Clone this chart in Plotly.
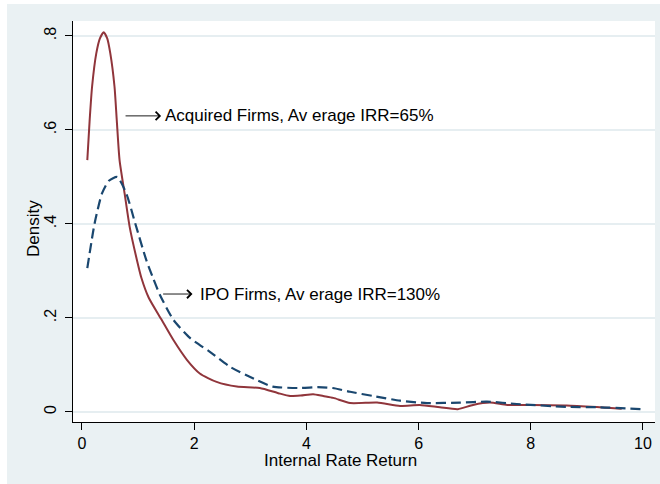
import plotly.graph_objects as go

# ---- data ----
acq_x = [0.095, 0.137, 0.18, 0.255, 0.32, 0.387, 0.45, 0.505, 0.58, 0.62, 0.67, 0.76, 0.85,
         0.98, 1.06, 1.19, 1.42, 1.63, 1.87, 2.10, 2.40, 2.76, 3.17, 3.5, 3.71,
         3.9, 4.12, 4.3, 4.48, 4.78, 5.26, 5.67, 6.02, 6.38, 6.7, 6.97, 7.27, 7.58, 8.04,
         8.64, 9.23, 9.62]
acq_y = [0.536, 0.621, 0.692, 0.763, 0.795, 0.808, 0.795, 0.763, 0.692, 0.621, 0.536, 0.465, 0.394,
         0.323, 0.285, 0.243, 0.196, 0.153, 0.111, 0.082, 0.064, 0.054, 0.051, 0.040, 0.034,
         0.035, 0.038, 0.034, 0.030, 0.019, 0.020, 0.013, 0.015, 0.010, 0.006, 0.015, 0.020, 0.015, 0.015,
         0.014, 0.010, 0.007]

ipo_x = [0.095, 0.225, 0.357, 0.48, 0.63, 0.79, 0.95, 1.147, 1.27, 1.39, 1.63, 1.93, 2.28, 2.64,
         3.11, 3.4, 3.89, 4.2, 4.47, 4.78, 5.19, 5.67, 6.15, 6.74, 7.22, 7.75, 8.64, 9.23, 10.0]
ipo_y = [0.306, 0.401, 0.465, 0.492, 0.500, 0.465, 0.401, 0.323, 0.284, 0.249, 0.196, 0.157, 0.128, 0.096,
         0.068, 0.054, 0.051, 0.053, 0.051, 0.043, 0.034, 0.024, 0.019, 0.020, 0.022, 0.017, 0.011, 0.010, 0.006]

x_ticks = [0, 2, 4, 6, 8, 10]
y_ticks = [0, 0.2, 0.4, 0.6, 0.8]
y_ticktext = ["0", ".2", ".4", ".6", ".8"]

acq_label = "Acquired Firms, Av erage IRR=65%"
ipo_label = "IPO Firms, Av erage IRR=130%"
x_title = "Internal Rate Return"
y_title = "Density"

MAROON = "#90353B"
NAVY = "#1A476F"
BG = "#EAF1F3"
GRID = "#E6EEF1"
FONT = "Liberation Sans, Arial, sans-serif"

fig = go.Figure()
fig.add_trace(go.Scatter(x=acq_x, y=acq_y, mode="lines",
                         line=dict(color=MAROON, width=2, shape="spline", smoothing=0.6),
                         showlegend=False, hoverinfo="skip"))
fig.add_trace(go.Scatter(x=ipo_x, y=ipo_y, mode="lines",
                         line=dict(color=NAVY, width=2.2, dash="10px,5px", shape="spline", smoothing=0.6),
                         showlegend=False, hoverinfo="skip"))

W, H = 660, 484
ml, mr, mt, mb = 73, 5, 21, 62
pw, ph = W - ml - mr, H - mt - mb

def px_x(p):
    return (p - ml) / pw

def px_y(p):
    return (H - mb - p) / ph

shapes = [
    dict(type="rect", xref="paper", yref="paper", x0=px_x(7), x1=px_x(661), y0=px_y(485), y1=px_y(4),
         fillcolor=BG, line=dict(width=0), layer="below"),
    dict(type="rect", xref="paper", yref="paper", x0=0, x1=1, y0=0, y1=1,
         fillcolor="white", line=dict(width=0), layer="below"),
]

annotations = [
    # arrows
    dict(x=1.41, y=0.630, ax=0.75, ay=0.630, xref="x", yref="y", axref="x", ayref="y",
         text="", showarrow=True, arrowhead=4, arrowsize=1.8, arrowwidth=0.9, arrowcolor="#000000"),
    dict(x=1.97, y=0.251, ax=1.42, ay=0.251, xref="x", yref="y", axref="x", ayref="y",
         text="", showarrow=True, arrowhead=4, arrowsize=1.8, arrowwidth=0.9, arrowcolor="#000000"),
    # labels
    dict(x=1.44, y=0.630, xref="x", yref="y", text=acq_label, showarrow=False,
         xanchor="left", yanchor="middle", font=dict(family=FONT, size=17, color="#000000")),
    dict(x=2.07, y=0.251, xref="x", yref="y", text=ipo_label, showarrow=False,
         xanchor="left", yanchor="middle", font=dict(family=FONT, size=17, color="#000000")),
    # axis titles
    dict(x=px_x(340), y=px_y(460), xref="paper", yref="paper", text=x_title, showarrow=False,
         xanchor="center", yanchor="middle", font=dict(family=FONT, size=17, color="#000000")),
    dict(x=px_x(33), y=px_y(229), xref="paper", yref="paper", text=y_title, showarrow=False,
         textangle=-90, xanchor="center", yanchor="middle",
         font=dict(family=FONT, size=17, color="#000000")),
]

fig.update_layout(
    width=W, height=H,
    margin=dict(l=ml, r=mr, t=mt, b=mb, pad=0),
    paper_bgcolor="white",
    plot_bgcolor="rgba(0,0,0,0)",
    shapes=shapes,
    annotations=annotations,
    font=dict(family=FONT, size=16, color="#000000"),
    xaxis=dict(range=[-0.160, 10.214], tickmode="array", tickvals=x_ticks,
               ticks="outside", ticklen=7, tickwidth=1, tickcolor="#000000",
               showline=True, linecolor="#000000", linewidth=1,
               showgrid=False, zeroline=False, tickfont=dict(family=FONT, size=16)),
    yaxis=dict(range=[-0.0213, 0.8319], tickmode="array", tickvals=y_ticks, ticktext=y_ticktext,
               tickangle=-90, ticks="outside", ticklen=7, tickwidth=1, tickcolor="#000000",
               ticklabelstandoff=3,
               showline=True, linecolor="#000000", linewidth=1,
               showgrid=True, gridcolor=GRID, gridwidth=1.5, zeroline=False,
               tickfont=dict(family=FONT, size=16)),
)

fig.write_html("out.html")
